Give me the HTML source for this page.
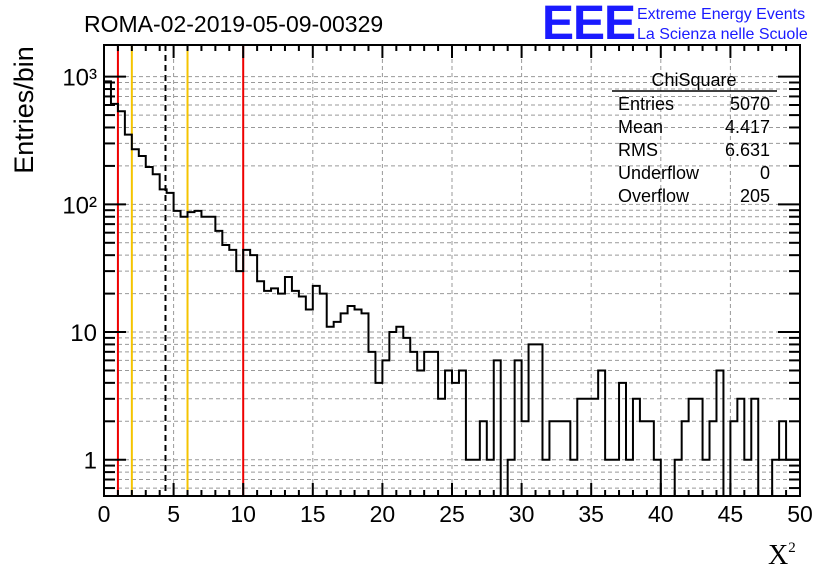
<!DOCTYPE html>
<html><head><meta charset="utf-8"><style>
body{margin:0;background:#fff;}
svg{display:block;font-family:"Liberation Sans",sans-serif;}
</style></head><body>
<svg id="c" width="836" height="572" viewBox="0 0 836 572">
<rect x="0" y="0" width="836" height="572" fill="#fff"/>
<g id="grid"></g>
<g id="vlines"></g>
<path id="hist" fill="none" stroke="#000" stroke-width="2"/>
<g id="axes"></g>
<text x="84" y="32" font-size="23">ROMA-02-2019-05-09-00329</text>
<text x="542" y="39" font-size="48" font-weight="bold" fill="#1a1aff" letter-spacing="-1">EEE</text>
<text x="637" y="19" font-size="16" fill="#1a1aff">Extreme Energy Events</text>
<text x="637" y="39" font-size="16" fill="#1a1aff">La Scienza nelle Scuole</text>
<text transform="translate(33,110) rotate(-90)" text-anchor="middle" font-size="27">Entries/bin</text>
<text x="768" y="564" font-size="28" font-family="Liberation Serif,serif">X<tspan font-size="15" dy="-12">2</tspan></text>
<g>
<text x="694" y="86" font-size="18" text-anchor="middle">ChiSquare</text>
<line x1="612" y1="91" x2="777" y2="91" stroke="#000" stroke-width="1.5"/>
<g id="stats" font-size="18"></g>
</g>
</svg>
<script>
const categoriesRange=[0,50];
const binCounts=[919,612,536,352,270,239,196,172,131,123,89,80,87,89,80,80,62,48,44,30,44,40,25,21,22,20,27,21,19,15,23,20,11,12,14,16,15,14,7,4,6,10,11,9,7,5,7,7,3,5,4,5,1,1,2,1,6,0,1,6,2,8,8,1,2,2,2,1,3,3,3,5,1,1,4,1,3,2,2,1,0,0,1,2,3,3,1,2,5,0,2,3,1,3,0,0,1,2,1,1];
const xTickLabels=["0","5","10","15","20","25","30","35","40","45","50"];
const yTickLabels=[["1",0],["10",1],["10²",2],["10³",3]];
const refLines=[[1,"#e00"],[10,"#e00"],[2,"#f5c400"],[6,"#f5c400"],[4.417,"dash"]];
const statsRows=[["Entries","5070"],["Mean","4.417"],["RMS","6.631"],["Underflow","0"],["Overflow","205"]];

const NS="http://www.w3.org/2000/svg";
const L=104,R=800,T=45,B=496;
const yMinLog=Math.log10(0.52),yMaxLog=Math.log10(1770);
const xs=v=>L+(v-categoriesRange[0])/(categoriesRange[1]-categoriesRange[0])*(R-L);
const ys=v=>v<=0?B:Math.max(T,Math.min(B,B-(Math.log10(v)-yMinLog)/(yMaxLog-yMinLog)*(B-T)));
function mk(tag,attrs,parent){const e=document.createElementNS(NS,tag);for(const k in attrs)e.setAttribute(k,attrs[k]);parent.appendChild(e);return e;}
const grid=document.getElementById('grid'),axes=document.getElementById('axes'),vl=document.getElementById('vlines');
for(let d=-1;d<=3;d++)for(let m=1;m<=9;m++){const v=m*Math.pow(10,d);const y=ys(v);if(y<=T||y>=B)continue;
 const g=mk('line',{x1:L,x2:R,y1:y,y2:y,stroke:'#999','stroke-dasharray':'4,3','stroke-width':1},grid);
 }
for(let v=5;v<50;v+=5){const x=xs(v);const g=mk('line',{x1:x,x2:x,y1:T,y2:B,stroke:'#999','stroke-dasharray':'4,3','stroke-width':1},grid);
 }
refLines.forEach(([v,c])=>{const x=xs(v);const a={x1:x,x2:x,y1:T,y2:B,'stroke-width':2,stroke:c==='dash'?'#000':c};if(c==='dash')a['stroke-dasharray']='6,4';
 const e=mk('line',a,vl);});
const n=binCounts.length,w=(categoriesRange[1]-categoriesRange[0])/n;let d='';
binCounts.forEach((c,i)=>{const x0=xs(categoriesRange[0]+i*w),x1=xs(categoriesRange[0]+(i+1)*w),y=ys(c);d+=(i===0?'M'+x0+','+y:'L'+x0+','+y)+'L'+x1+','+y;});
document.getElementById('hist').setAttribute('d',d);
const f=mk('rect',{x:L,y:T,width:R-L,height:B-T,fill:'none',stroke:'#000','stroke-width':2},axes);

for(let v=0;v<=50;v++){const x=xs(v),len=v%5===0?13:6;
 mk('line',{x1:x,x2:x,y1:B,y2:B-len,stroke:'#000','stroke-width':2},axes);
 mk('line',{x1:x,x2:x,y1:T,y2:T+len,stroke:'#000','stroke-width':2},axes);}
xTickLabels.forEach((t,i)=>{const e=mk('text',{x:xs(i*5),y:522,'font-size':23,'text-anchor':'middle'},axes);e.textContent=t;
 });
for(let dd=-1;dd<=3;dd++)for(let m=1;m<=9;m++){const v=m*Math.pow(10,dd);const y=ys(v);if(y<=T||y>=B)continue;const len=m===1?22:11;
 mk('line',{x1:L,x2:L+len,y1:y,y2:y,stroke:'#000','stroke-width':2},axes);
 mk('line',{x1:R,x2:R-len,y1:y,y2:y,stroke:'#000','stroke-width':2},axes);}
yTickLabels.forEach(([t,p])=>{const e=mk('text',{x:97,y:ys(Math.pow(10,p))+9,'font-size':24,'text-anchor':'end'},axes);e.textContent=t;
 });
const st=document.getElementById('stats');
statsRows.forEach(([k,v],i)=>{const y=110+i*23;
 const a=mk('text',{x:618,y:y},st);a.textContent=k;
 const b=mk('text',{x:770,y:y,'text-anchor':'end'},st);b.textContent=v;});
</script>
</body></html>
